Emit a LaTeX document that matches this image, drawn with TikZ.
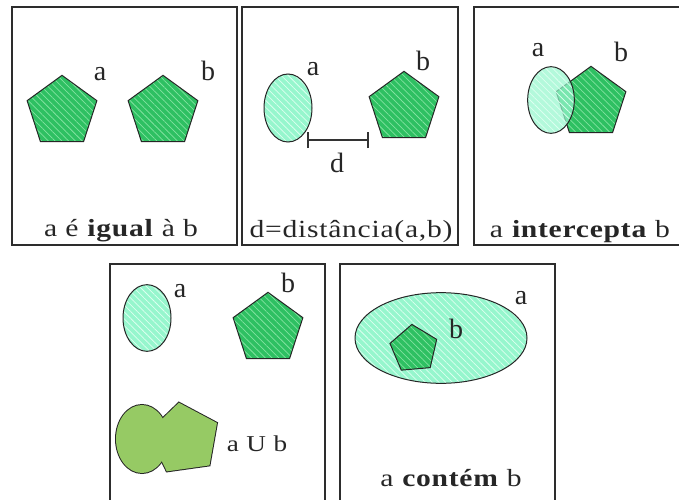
\documentclass[tikz,border=0pt]{standalone}
\usepackage{fontspec}
\setmainfont{Liberation Serif}
\newfontfamily\capfont[FakeStretch=1.2,LetterSpace=3]{Liberation Serif}
\usetikzlibrary{shapes.geometric,patterns.meta}
\definecolor{pentc}{RGB}{46,192,98}
\definecolor{pentstripe}{RGB}{130,226,160}
\definecolor{ellc}{RGB}{150,246,205}
\definecolor{ellstripe}{RGB}{220,255,240}
\definecolor{unic}{RGB}{150,202,100}
\definecolor{boxline}{RGB}{45,45,45}
\tikzset{
  panel/.style={draw=boxline, line width=1.1pt},
  pent/.style={regular polygon, regular polygon sides=5, inner sep=0pt, outer sep=0pt,
    minimum size=#1, draw=black!85, line width=0.75pt,
    preaction={fill=pentc},
    preaction={pattern={Lines[angle=-45,distance=3.6pt,line width=0.55pt]}, pattern color=pentstripe}},
  pent/.default=55pt,
  ell/.style={ellipse, inner sep=0pt, outer sep=0pt, draw=black!85, line width=0.75pt,
    preaction={fill=ellc},
    preaction={pattern={Lines[angle=-45,distance=3.6pt,line width=0.55pt]}, pattern color=ellstripe}},
  lab/.style={font=\fontsize{21}{21}\selectfont, text=black!85, inner sep=0pt},
  captxt/.style={font=\capfont\fontsize{18.5}{19}\selectfont, text=black!85, inner sep=0pt, anchor=base},
}
\begin{document}
\begin{tikzpicture}[x=0.75pt,y=-0.75pt]
\useasboundingbox (0,0) rectangle (679,500);
\clip (0,0) rectangle (679,500);
% panels
\draw[panel] (12,7) rectangle (237,245);
\draw[panel] (242,7) rectangle (458,245);
\draw[panel] (474,7) rectangle (700,245);
\draw[panel] (110,264) rectangle (325,520);
\draw[panel] (340,264) rectangle (555,520);
% panel 1
\node[pent] (p1a) at (62,112) {};
\node[pent] (p1b) at (163,112) {};
\node[lab] (l1a) at (100,74) {a};
\node[lab] (l1b) at (208,71) {b};
\node[captxt] (c1) at (121,236) {a é \textbf{igual} à b};
% panel 2
\node[ell, minimum width=36pt, minimum height=51pt] (e2a) at (288,108) {};
\node[pent] (p2b) at (404,108) {};
\node[lab] (l2a) at (313,69) {a};
\node[lab] (l2b) at (423,61) {b};
\coordinate (d1) at (308,140);
\coordinate (d2) at (368,140);
\draw[line width=0.9pt, black!80] (d1) -- (d2);
\draw[line width=0.9pt, black!80] ([yshift=-6]d1) -- ([yshift=6]d1);
\draw[line width=0.9pt, black!80] ([yshift=-6]d2) -- ([yshift=6]d2);
\node[lab] (ld) at (337,163) {d};
\node[captxt] (c2) at (351,237) {d=distância(a,b)};
% panel 3
\node[pent] (p3b) at (591,103) {};
\node[ell, minimum width=35pt, minimum height=50pt, fill opacity=0.72] (e3a) at (551,100) {};
\node[lab] (l3a) at (538,50) {a};
\node[lab] (l3b) at (621,52) {b};
\node[captxt] (c3) at (580,237) {a \textbf{intercepta} b};
% panel 4
\node[ell, minimum width=36pt, minimum height=50pt] (e4a) at (147,318) {};
\node[pent] (p4b) at (268,329) {};
\node[lab] (l4a) at (180,291) {a};
\node[lab] (l4b) at (288,283) {b};
% union
\node[ellipse, inner sep=0pt, outer sep=0pt, minimum width=39pt, minimum height=51pt, draw=black!85, line width=1.5pt, fill=unic] (u1) at (142,439) {};
\node[regular polygon, regular polygon sides=5, inner sep=0pt, outer sep=0pt, minimum size=55pt, rotate=8, draw=black!85, line width=1.5pt, fill=unic] (u2) at (184,439) {};
\fill[unic] (u1.center) ellipse [x radius=19.5pt, y radius=25.5pt];
\fill[unic] (u2.corner 1) -- (u2.corner 2) -- (u2.corner 3) -- (u2.corner 4) -- (u2.corner 5) -- cycle;
\node[captxt, font=\capfont\fontsize{17}{17}\selectfont] (lu) at (257,451) {a U b};
% panel 5
\node[ell, minimum width=129pt, minimum height=68pt] (e5a) at (441,338) {};
\node[pent=37pt, rotate=5] (p5b) at (414,349) {};
\node[lab] (l5a) at (521,298) {a};
\node[lab] (l5b) at (456,329) {b};
\node[captxt] (c5) at (451,486) {a \textbf{contém} b};
\end{tikzpicture}
\end{document}
